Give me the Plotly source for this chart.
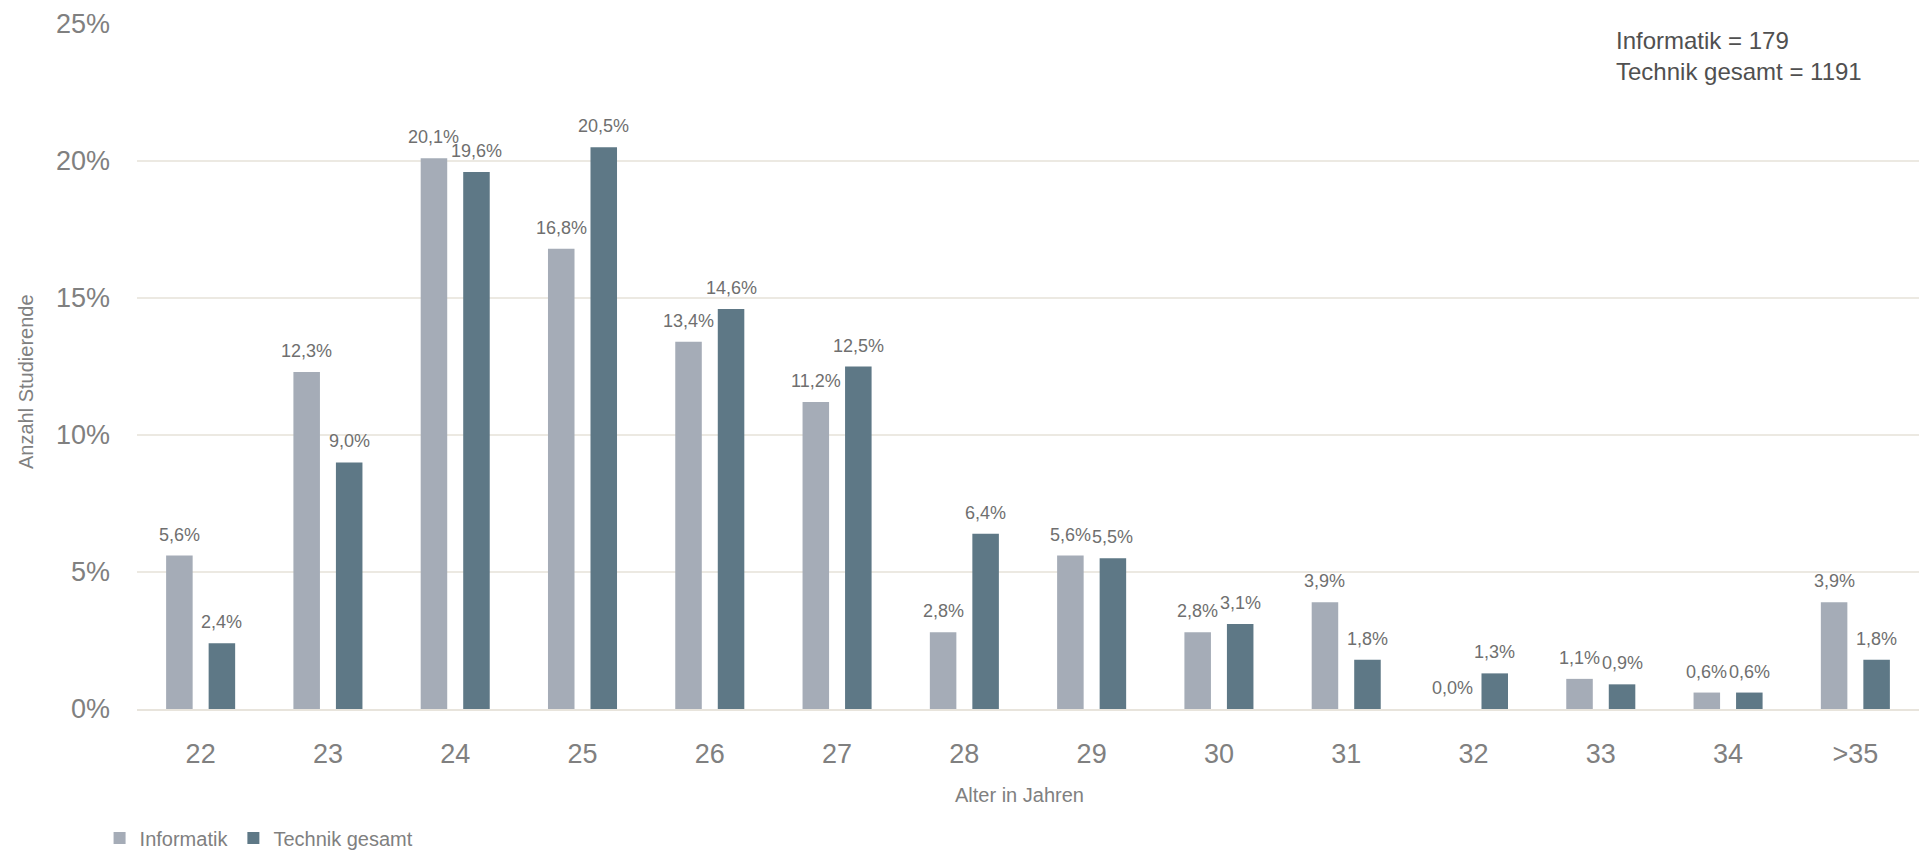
import plotly.graph_objects as go

categories = ["22", "23", "24", "25", "26", "27", "28", "29", "30", "31", "32", "33", "34", ">35"]
informatik = [5.6, 12.3, 20.1, 16.8, 13.4, 11.2, 2.8, 5.6, 2.8, 3.9, 0.0, 1.1, 0.6, 3.9]
technik = [2.4, 9.0, 19.6, 20.5, 14.6, 12.5, 6.4, 5.5, 3.1, 1.8, 1.3, 0.9, 0.6, 1.8]
y_ticks = [0, 5, 10, 15, 20, 25]
y_tick_labels = ["0%", "5%", "10%", "15%", "20%", "25%"]
note_lines = ["Informatik = 179", "Technik gesamt = 1191"]

FONT = "Liberation Sans, Arial, sans-serif"
C_INF = "#A5ACB7"
C_TEC = "#5E7886"
GREY = "#808080"

W, H = 1927, 850
ML, MR, MT, MB = 137, 8, 24, 141
plot_w = W - ML - MR
plot_h = H - MT - MB

fig = go.Figure()
fig.add_trace(go.Bar(name="Informatik", x=categories, y=informatik,
                     marker=dict(color=C_INF, line=dict(width=0))))
fig.add_trace(go.Bar(name="Technik gesamt", x=categories, y=technik,
                     marker=dict(color=C_TEC, line=dict(width=0))))

# value labels above bars (x given as category index)
slot = plot_w / len(categories)
group = slot * (1 - 0.332)
off = group / 4
for series, sign in ((informatik, -1), (technik, 1)):
    for i, v in enumerate(series):
        fig.add_annotation(x=i, y=v, xref="x", yref="y",
                           text=f"{v:.1f}".replace(".", ",") + "%",
                           showarrow=False, xanchor="center", yanchor="bottom",
                           xshift=sign * off, yshift=9,
                           font=dict(family=FONT, size=18, color="#6F6F6F"))

fig.add_annotation(x=(1614 - ML) / plot_w, y=1 - (25 - MT) / plot_h,
                   xref="paper", yref="paper", xanchor="left", yanchor="top",
                   align="left", showarrow=False,
                   text="<br>".join(note_lines),
                   font=dict(family=FONT, size=24, color="#505050"))

# axis titles
fig.add_annotation(x=(1019 - ML) / plot_w, y=-(795 - (H - MB)) / plot_h,
                   xref="paper", yref="paper", xanchor="center", yanchor="middle",
                   showarrow=False, text="Alter in Jahren",
                   font=dict(family=FONT, size=20, color=GREY))
fig.add_annotation(x=-(ML - 26) / plot_w, y=1 - (382 - MT) / plot_h,
                   xref="paper", yref="paper", xanchor="center", yanchor="middle",
                   showarrow=False, text="Anzahl Studierende", textangle=-90,
                   font=dict(family=FONT, size=20, color=GREY))

fig.update_layout(
    width=W, height=H,
    margin=dict(l=ML, r=MR, t=MT, b=MB, pad=0, autoexpand=False),
    paper_bgcolor="white", plot_bgcolor="white",
    barmode="group", bargap=0.332, bargroupgap=0.376,
    font=dict(family=FONT, color=GREY),
    showlegend=True,
    legend=dict(orientation="h", x=-0.021, xanchor="left",
                yref="container", y=(H - 838) / H, yanchor="middle",
                font=dict(family=FONT, size=20, color=GREY),
                itemwidth=30, traceorder="normal", bgcolor="rgba(0,0,0,0)"),
    xaxis=dict(type="category", categoryorder="array", categoryarray=categories,
               range=[-0.5, len(categories) - 0.5], autorange=False,
               showgrid=False, showline=True, linecolor="#E8E4DC", linewidth=2,
               tickfont=dict(family=FONT, size=27, color=GREY), ticks="",
               ticklabelstandoff=20, fixedrange=True),
    yaxis=dict(range=[0, 25], autorange=False, tickmode="array", tickvals=y_ticks,
               ticktext=y_tick_labels,
               showgrid=True, gridcolor="#ECE9E2", gridwidth=2, zeroline=False,
               showline=False, ticks="", ticklabelstandoff=26,
               tickfont=dict(family=FONT, size=27, color=GREY), fixedrange=True),
)

fig.write_html("out.html")
